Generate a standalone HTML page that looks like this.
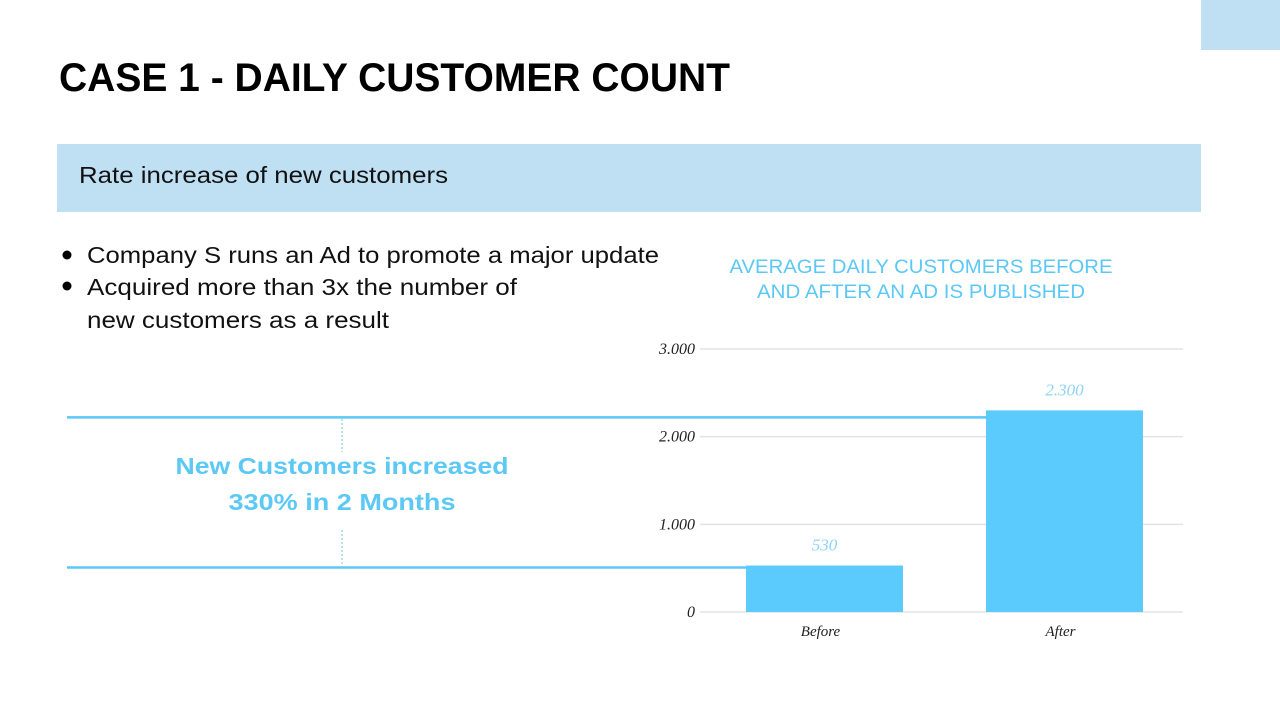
<!DOCTYPE html>
<html><head><meta charset="utf-8"><style>
html,body{margin:0;padding:0;background:#fff;}
svg{display:block;font-family:"Liberation Sans",sans-serif;}
</style></head><body>
<svg id="s" width="1280" height="720" viewBox="0 0 1280 720">
<rect x="1201" y="0" width="79" height="50" fill="#bfe0f3"/>
<text x="59" y="91" font-size="40" font-weight="bold" fill="#000" textLength="671" lengthAdjust="spacingAndGlyphs">CASE 1 - DAILY CUSTOMER COUNT</text>
<rect x="57" y="144" width="1144" height="68" fill="#bfe0f3"/>
<text x="79" y="183" font-size="23" fill="#111" textLength="369" lengthAdjust="spacingAndGlyphs">Rate increase of new customers</text>
<circle cx="67" cy="255" r="4.5" fill="#000"/>
<text x="87" y="263" font-size="23" fill="#111" textLength="572" lengthAdjust="spacingAndGlyphs">Company S runs an Ad to promote a major update</text>
<circle cx="67" cy="286" r="4.5" fill="#000"/>
<text x="87" y="295" font-size="23" fill="#111" textLength="430" lengthAdjust="spacingAndGlyphs">Acquired more than 3x the number of</text>
<text x="87" y="328" font-size="23" fill="#111" textLength="302" lengthAdjust="spacingAndGlyphs">new customers as a result</text>
<text x="921" y="273" font-size="19" fill="#5bc8f5" text-anchor="middle" textLength="383" lengthAdjust="spacingAndGlyphs">AVERAGE DAILY CUSTOMERS BEFORE</text>
<text x="921" y="298" font-size="19" fill="#5bc8f5" text-anchor="middle" textLength="328" lengthAdjust="spacingAndGlyphs">AND AFTER AN AD IS PUBLISHED</text>
<text x="342" y="474" font-size="23" font-weight="bold" fill="#5bc8f5" text-anchor="middle" textLength="333" lengthAdjust="spacingAndGlyphs">New Customers increased</text>
<text x="342" y="510" font-size="23" font-weight="bold" fill="#5bc8f5" text-anchor="middle" textLength="227" lengthAdjust="spacingAndGlyphs">330% in 2 Months</text>
<g id="chart"></g>
</svg>
<script>
const categories = ["Before", "After"];
const values = [530, 2300];
const valueLabels = ["530", "2.300"];
const yTicks = [0, 1000, 2000, 3000];
const yTickLabels = ["0", "1.000", "2.000", "3.000"];

const NS = "http://www.w3.org/2000/svg";
const g = document.getElementById("chart");
const y0 = 612, yTop = 349, vMax = 3000;
const xL = 700, xR = 1183;
const y = v => y0 - (v / vMax) * (y0 - yTop);
const bandStart = 706, bandW = 240, barW = 157, barOff = 40;
const x = i => bandStart + i * bandW + barOff;
function mk(tag, attrs) { const e = document.createElementNS(NS, tag); for (const k in attrs) e.setAttribute(k, attrs[k]); g.appendChild(e); return e; }

yTicks.forEach((t, i) => {
  const l = mk("line", {x1: xL, x2: xR, y1: y(t), y2: y(t), stroke: "#e2e2e8", "stroke-width": 1.5});
  
  
  const tx = mk("text", {x: 695, y: y(t) + 5, "text-anchor": "end", "font-size": 16, "font-style": "italic", fill: "#222", "font-family": "Liberation Serif, serif"});
  tx.textContent = yTickLabels[i];
  
  
});

// reference lines tied to bar tops
const r1 = mk("line", {x1: 67, x2: x(1), y1: y(values[1]) + 7, y2: y(values[1]) + 7, stroke: "#5bc8f5", "stroke-width": 2.5});


const r2 = mk("line", {x1: 67, x2: x(0), y1: y(values[0]) + 2, y2: y(values[0]) + 2, stroke: "#5bc8f5", "stroke-width": 2.5});


const d1 = mk("line", {x1: 342, x2: 342, y1: 419, y2: 452, stroke: "#bfe0f3", "stroke-width": 2, "stroke-dasharray": "2 2"});


const d2 = mk("line", {x1: 342, x2: 342, y1: 530, y2: 566, stroke: "#bfe0f3", "stroke-width": 2, "stroke-dasharray": "2 2"});



categories.forEach((c, i) => {
  const b = mk("rect", {x: x(i), y: y(values[i]), width: barW, height: y0 - y(values[i]), fill: "#5bcafc"});
  
  
  const vl = mk("text", {x: x(i) + barW / 2, y: y(values[i]) - 15, "text-anchor": "middle", "font-size": 17, "font-style": "italic", fill: "#8fd3f5", "font-family": "Liberation Serif, serif"});
  vl.textContent = valueLabels[i];
  
  
  const cl = mk("text", {x: x(i) + barW / 2 - 4, y: 636, "text-anchor": "middle", "font-size": 15, "font-style": "italic", fill: "#222", "font-family": "Liberation Serif, serif"});
  cl.textContent = c;
  
  
});
</script>
</body></html>
